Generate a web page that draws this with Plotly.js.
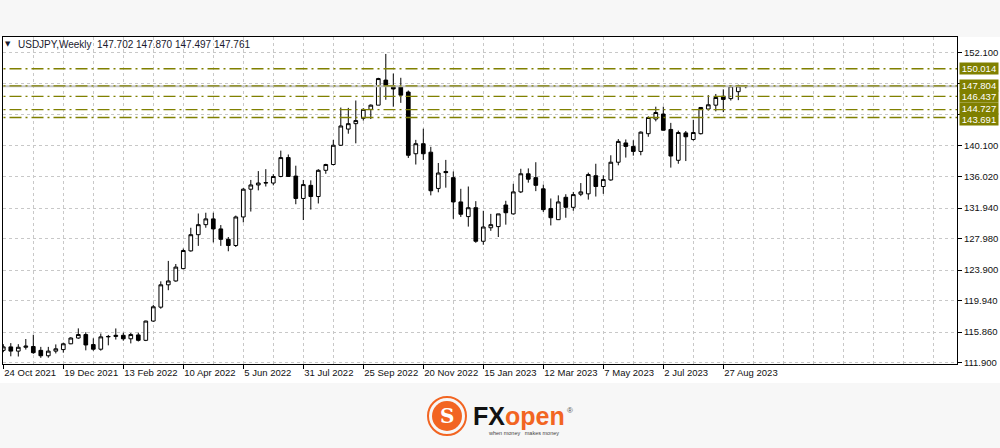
<!DOCTYPE html>
<html>
<head>
<meta charset="utf-8">
<script src="https://cdn.plot.ly/plotly-3.0.1.min.js"></script>
<style>
  html, body { margin: 0; padding: 0; background: #f7f7f7; }
  #chart { width: 1000px; height: 448px; }
</style>
</head>
<body>
<div id="chart"></div>
<script>
// Weekly USDJPY candles, 24 Oct 2021 .. 17 Sep 2023 (one bar per week)
const openP = [
  113.50,113.95,113.40,113.90,114.00,113.50,112.80,113.40,113.60,114.35,
  115.10,115.55,114.25,113.65,115.25,115.30,115.45,115.00,115.50,114.80,
  117.30,119.10,122.00,122.50,124.10,126.40,128.50,129.80,130.55,129.25,
  127.90,127.10,130.80,134.40,134.95,135.20,135.20,136.05,138.50,136.10,
  133.20,134.90,133.45,136.85,137.60,140.10,142.20,142.90,143.60,144.75,
  145.30,148.55,147.70,147.70,147.00,139.00,140.30,139.20,134.50,136.70,
  135.90,132.75,130.85,132.00,127.65,129.40,129.55,132.35,131.20,134.05,
  136.40,135.90,134.45,131.90,130.45,133.35,132.05,133.75,133.80,136.15,
  134.75,135.60,137.90,140.40,139.95,139.30,141.60,143.50,144.15,142.15,
  138.15,141.70,140.85,141.60,144.80,145.30,146.45,146.15,147.05,147.702
];
const highP = [
  114.30,114.44,114.30,114.97,115.52,113.95,113.95,114.27,114.50,115.20,
  116.35,115.85,115.06,115.68,115.50,116.34,115.80,115.75,115.80,117.35,
  119.40,122.45,125.10,124.70,126.70,129.40,131.25,131.35,131.35,129.75,
  128.20,130.98,134.55,135.60,136.75,137.00,136.35,139.40,138.90,137.45,
  135.60,135.55,137.00,137.70,140.80,144.99,144.95,145.90,144.90,145.40,
  148.85,151.94,149.40,148.85,147.20,140.80,142.25,139.90,137.80,138.20,
  136.70,134.45,134.75,132.85,131.60,131.20,131.20,132.90,135.10,137.05,
  137.10,137.90,135.00,133.20,133.60,133.75,134.05,135.20,136.55,137.70,
  136.20,138.80,140.90,140.85,140.75,141.90,143.85,145.10,145.10,143.00,
  142.00,141.95,143.40,145.00,146.60,146.75,147.35,147.85,147.95,147.870
];
const lowP = [
  113.26,112.73,112.70,113.60,113.05,112.53,112.55,113.10,113.20,114.30,
  115.00,113.50,113.45,113.46,114.15,114.90,114.75,114.40,114.65,114.70,
  117.20,118.90,121.30,122.40,124.00,126.30,127.05,129.40,127.50,127.05,
  126.35,126.90,130.10,131.50,134.25,134.75,134.90,135.95,136.50,132.45,
  130.40,131.75,132.55,136.40,137.50,140.00,141.60,140.35,143.30,143.50,
  145.30,146.00,145.10,145.60,138.45,137.60,138.20,133.60,134.00,134.60,
  130.55,130.80,129.55,127.45,127.20,129.00,128.20,129.80,131.10,133.90,
  135.25,134.15,131.45,129.70,130.40,130.70,131.60,133.50,133.05,133.45,
  133.80,135.50,137.50,138.50,138.75,138.80,141.20,143.20,142.00,137.20,
  137.70,138.05,140.70,141.50,144.60,144.50,144.40,145.90,145.95,147.497
];
const closeP = [
  113.95,113.40,113.90,114.05,113.20,112.80,113.40,113.70,114.35,115.10,
  115.55,114.20,113.65,115.25,115.30,115.45,115.00,115.55,114.80,117.30,
  119.15,122.00,122.50,124.30,126.45,128.50,129.80,130.55,129.25,127.90,
  127.10,130.80,134.40,134.95,135.20,135.25,136.05,138.50,136.05,133.20,
  135.00,133.45,136.85,137.60,140.10,142.60,142.90,143.30,144.75,145.30,
  148.75,147.75,147.40,146.60,138.80,140.30,139.00,134.20,136.50,136.55,
  132.75,131.15,132.00,127.65,129.50,129.80,131.20,131.35,134.05,136.40,
  135.70,134.90,131.75,130.70,132.75,132.05,133.70,134.05,136.30,134.75,
  135.65,137.90,140.60,139.95,139.30,141.80,143.70,144.35,142.05,138.70,
  141.75,141.20,141.75,145.00,145.35,146.30,146.05,147.80,147.80,147.761
];

// x-axis date labels (every 8th weekly bar) and their bar numbers
const tickBars   = [0, 8, 16, 24, 32, 40, 48, 56, 64, 72, 80, 88, 96];
const tickLabels = ["24 Oct 2021","19 Dec 2021","13 Feb 2022","10 Apr 2022","5 Jun 2022",
                    "31 Jul 2022","25 Sep 2022","20 Nov 2022","15 Jan 2023","12 Mar 2023",
                    "7 May 2023","2 Jul 2023","27 Aug 2023"];

// price scale
const yTickVals = [152.1, 148.08, 144.06, 140.1, 136.02, 131.94, 127.98, 123.9, 119.94, 115.86, 111.9];
const yTickText = ["152.100", "", "", "140.100", "136.020", "131.940", "127.980", "123.900", "119.940", "115.860", "111.900"];

// horizontal levels
const levels      = [150.014, 147.804, 146.437, 144.727, 143.691];
const levelLabels = ["150.014", "147.804", "146.437", "144.727", "143.691"];
const bidPrice    = 147.761;

const headerText = "USDJPY,Weekly  147.702 147.870 147.497 147.761";

// ---- build ----
const bars = openP.map((_, i) => i);
const X0 = -0.04, X1 = 127.16;
const FONT = "Liberation Sans, Arial, sans-serif";
const OLIVE = "#808000";

const traces = [];
// bid line
traces.push({
  type: "scatter", mode: "lines", x: [X0 - 5, X1 + 5], y: [bidPrice, bidPrice],
  line: { color: "#c4c4c4", width: 2 }, hoverinfo: "skip", showlegend: false
});
// levels
levels.forEach(v => {
  traces.push({
    type: "scatter", mode: "lines", x: [X0 - 5, X1 + 5], y: [v, v],
    line: { color: OLIVE, width: 1.4, dash: "12px,4px,2px,4px" },
    hoverinfo: "skip", showlegend: false
  });
});
traces.push({
  type: "candlestick", x: bars, open: openP, high: highP, low: lowP, close: closeP,
  increasing: { line: { color: "#000000", width: 1 }, fillcolor: "#ffffff" },
  decreasing: { line: { color: "#000000", width: 1 }, fillcolor: "#000000" },
  whiskerwidth: 0, hoverinfo: "skip", showlegend: false
});

const W = 954, H = 327, L = 3, T = 37;
const xp = px => (px - L) / W;
const yp = py => (T + H - py) / H;

const annotations = [];
// header
annotations.push({ xref: "paper", yref: "paper", x: xp(8), y: yp(44.5), xanchor: "center", yanchor: "middle",
  text: "▼", showarrow: false, font: { family: "DejaVu Sans", size: 7, color: "#1a1a2e" } });
annotations.push({ xref: "paper", yref: "paper", x: xp(16), y: yp(44.5), xanchor: "left", yanchor: "middle",
  text: headerText.replace("  ", "&nbsp;&nbsp;"), showarrow: false, font: { family: FONT, size: 10, color: "#1a1a2e" } });
// level price labels (slight nudges keep the two lowest boxes readable)
const labelShift = [0, 0, 0, 1.5, -1.5];
levels.forEach((v, i) => {
  annotations.push({ xref: "paper", yref: "y", x: 1, y: v, xanchor: "left", yanchor: "middle", xshift: 2, yshift: labelShift[i],
    text: levelLabels[i], showarrow: false, bgcolor: OLIVE, borderpad: 0, width: 38, align: "center",
    font: { family: FONT, size: 9.5, color: "#ffffff" } });
});
// logo text
annotations.push({ xref: "paper", yref: "paper", x: xp(471), y: yp(416), xanchor: "left", yanchor: "middle",
  text: "<b><span style='color:#111111'>FX</span><span style='color:#f26522'>open</span></b>", showarrow: false,
  font: { family: FONT, size: 25, color: "#111111" } });
annotations.push({ xref: "paper", yref: "paper", x: xp(570), y: yp(410), xanchor: "center", yanchor: "middle",
  text: "®", showarrow: false, font: { family: FONT, size: 8, color: "#555555" } });
annotations.push({ xref: "paper", yref: "paper", x: xp(486), y: yp(433), xanchor: "left", yanchor: "middle",
  text: "when money&nbsp;&nbsp;&nbsp;makes money", showarrow: false, font: { family: FONT, size: 5.5, color: "#444444" } });
annotations.push({ xref: "paper", yref: "paper", x: xp(447), y: yp(416), xanchor: "center", yanchor: "middle",
  text: "<b>S</b>", showarrow: false, font: { family: "DejaVu Serif", size: 20, color: "#ffffff" } });

const shapes = [
  { type: "rect", xref: "paper", yref: "paper", x0: xp(0), x1: xp(1000), y0: yp(383), y1: yp(37),
    fillcolor: "#ffffff", line: { width: 0 }, layer: "below" },
  { type: "circle", xref: "paper", yref: "paper", x0: xp(428), x1: xp(466), y0: yp(435), y1: yp(397),
    line: { color: "#f26522", width: 2 }, fillcolor: "rgba(0,0,0,0)" },
  { type: "circle", xref: "paper", yref: "paper", x0: xp(432), x1: xp(462), y0: yp(431), y1: yp(401),
    line: { width: 0 }, fillcolor: "#f26522" }
];

const layout = {
  width: 1000, height: 448,
  margin: { l: L, r: 1000 - L - W, t: T, b: 448 - T - H, pad: 0 },
  paper_bgcolor: "#f7f7f7", plot_bgcolor: "#ffffff",
  showlegend: false, dragmode: false,
  font: { family: FONT, size: 9.5, color: "#111111" },
  xaxis: {
    type: "linear", range: [X0, X1], fixedrange: true,
    tickmode: "array", tickvals: tickBars, ticktext: tickLabels, tickangle: 0,
    ticks: "outside", ticklen: 4, tickcolor: "#000000", tickwidth: 1,
    ticklabelposition: "outside right",
    showgrid: true, gridcolor: "#c8c8c8", griddash: "3px,3px", gridwidth: 1,
    minor: { tickmode: "linear", tick0: 0, dtick: 4, showgrid: true, gridcolor: "#c8c8c8", griddash: "3px,3px", ticklen: 0 },
    showline: true, linecolor: "#000000", linewidth: 1, mirror: true,
    zeroline: false, rangeslider: { visible: false },
    tickfont: { family: FONT, size: 9.5, color: "#111111" }
  },
  yaxis: {
    side: "right", range: [111.73, 154.14], fixedrange: true,
    tickmode: "array", tickvals: yTickVals, ticktext: yTickText,
    ticks: "outside", ticklen: 4, tickcolor: "#000000",
    showgrid: true, gridcolor: "#c8c8c8", griddash: "3px,3px", gridwidth: 1,
    showline: true, linecolor: "#000000", linewidth: 1, mirror: true, zeroline: false,
    tickfont: { family: FONT, size: 9.5, color: "#111111" }
  },
  annotations: annotations,
  shapes: shapes
};

Plotly.newPlot("chart", traces, layout, { staticPlot: true, displayModeBar: false });
</script>
</body>
</html>
